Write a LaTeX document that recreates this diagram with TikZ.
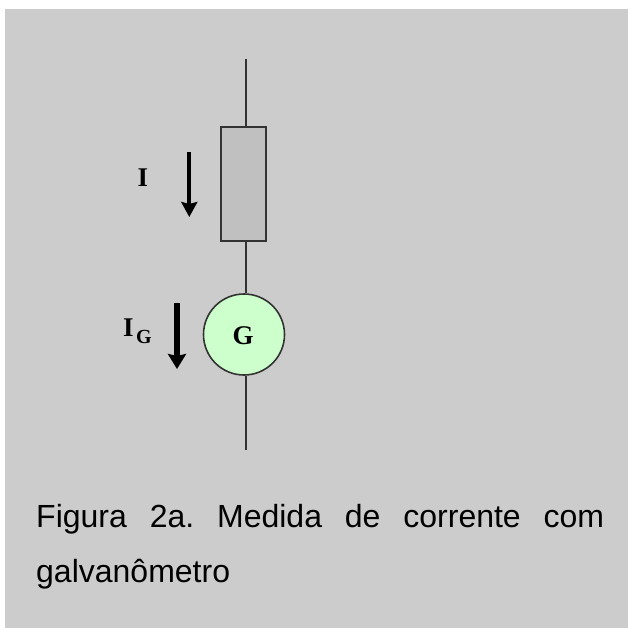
\documentclass[tikz,border=0pt]{standalone}
\usepackage{fontspec}
\setmainfont{Liberation Sans}
\newfontfamily\serifb{Liberation Serif}[Scale=1]
\definecolor{bg}{HTML}{CCCCCC}
\definecolor{boxfill}{HTML}{C0C0C0}
\definecolor{gfill}{HTML}{CCFFCC}
\definecolor{wirec}{HTML}{333333}
\usetikzlibrary{arrows.meta}
\tikzset{
 wire/.style={draw=wirec,line width=1.6pt},
 curarrow/.style={draw=black,line width=4pt,-{Stealth[length=15pt,width=16pt,inset=2pt]}},
 curarrowb/.style={draw=black,line width=5.5pt,-{Stealth[length=15pt,width=18pt,inset=2pt]}},
 lab/.style={inner sep=0pt,font=\serifb\bfseries\fontsize{27}{27}\selectfont},
 labsmall/.style={inner sep=0pt,font=\serifb\bfseries\fontsize{20}{20}\selectfont},
 captext/.style={inner sep=0pt,anchor=base west,font=\fontsize{32}{32}\selectfont}
}
\begin{document}
\begin{tikzpicture}[x=1pt,y=-1pt]
\useasboundingbox (0,0) rectangle (628,628);
\fill[bg] (5,9) rectangle (628,628);
\coordinate (t) at (246,59);
\coordinate (b) at (246,450);
\node[draw=wirec,line width=1.6pt,fill=boxfill,minimum width=45pt,minimum height=114pt,inner sep=0pt] (r) at (243.5,184) {};
\node[circle,draw=wirec,line width=1.6pt,fill=gfill,minimum size=81pt,inner sep=0pt] (g) at (244,334.5) {};
\draw[wire] (t) -- (t |- r.north);
\draw[wire] (t |- r.south) -- (t |- g.north);
\draw[wire] (t |- g.south) -- (b);
\node[lab] (gl) at (243,336) {G};
\node[lab] (il) at (143,177.5) {I};
\node[lab] (igl) at (128.5,327.5) {I};
\node[labsmall] (igs) at (144,337) {G};
\coordinate (a1) at (189.3,152);
\coordinate (a2) at (189.3,217);
\coordinate (b1) at (177,303);
\coordinate (b2) at (177,369);
\draw[curarrow] (a1) -- (a2);
\draw[curarrowb] (b1) -- (b2);
\node[captext] (c1) at (36,527) {\hbox to 568pt{Figura\hfill 2a.\hfill Medida\hfill de\hfill corrente\hfill com}};
\node[captext] (c2) at (36,582) {galvanômetro};
\end{tikzpicture}
\end{document}
